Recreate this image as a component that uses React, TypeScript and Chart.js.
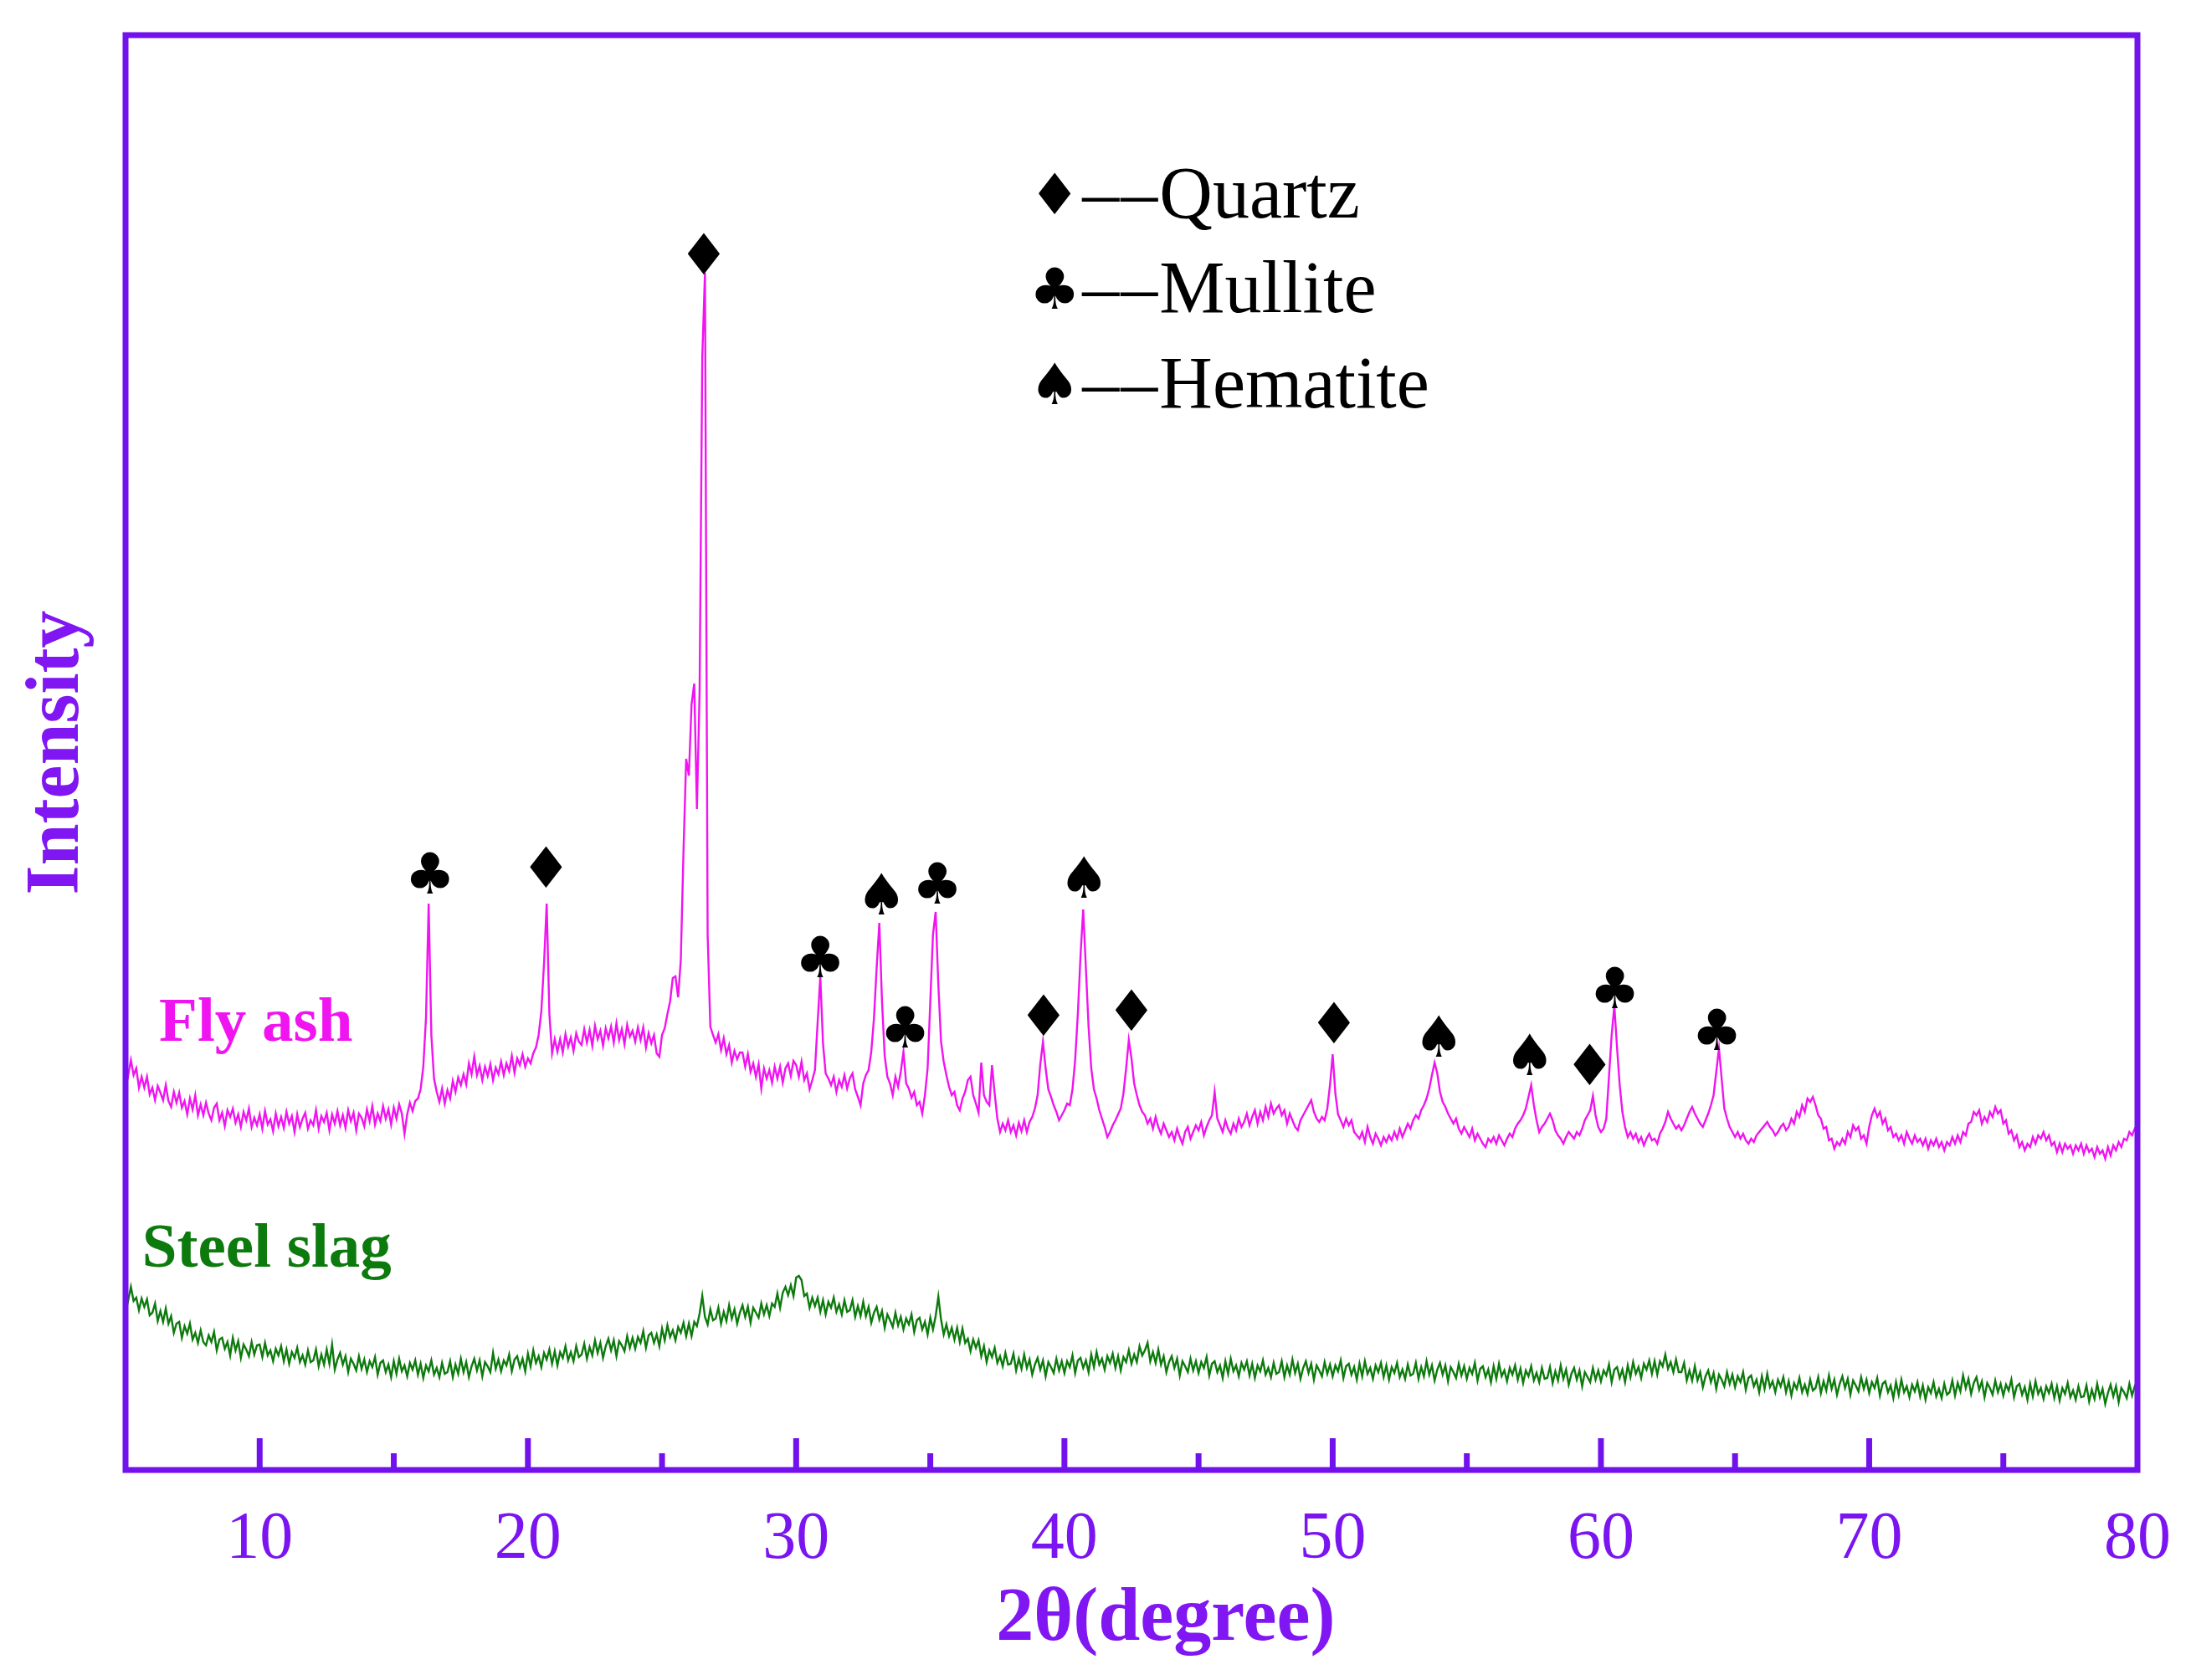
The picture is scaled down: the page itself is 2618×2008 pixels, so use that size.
import React, { useEffect, useRef } from "react";
import { Chart, registerables } from "chart.js";

Chart.register(...registerables);

// Both traces are read every 0.1° of 2θ, from 5° to 80°
const angleStart = 5;
const angleStep = 0.1;

// Fly ash intensity (arbitrary units), one row per degree
const flyAsh: number[] = [
  490, 472, 490, 472, 480, 457, 470, 457, 470, 449, // 5
  457, 442, 459, 451, 442, 460, 441, 434, 452, 439, // 6
  451, 433, 441, 425, 444, 431, 448, 424, 437, 424, // 7
  439, 426, 418, 433, 438, 418, 427, 411, 430, 422, // 8
  432, 415, 425, 410, 428, 418, 432, 410, 421, 412, // 9
  425, 408, 429, 413, 419, 405, 426, 411, 422, 409, // 10
  428, 414, 423, 404, 425, 410, 420, 427, 408, 418, // 11
  412, 430, 408, 423, 416, 427, 406, 425, 414, 429, // 12
  412, 424, 409, 430, 417, 427, 406, 426, 421, 411, // 13
  431, 417, 435, 413, 426, 417, 435, 420, 431, 413, // 14
  433, 420, 437, 426, 402, 425, 439, 429, 441, 444, // 15
  455, 482, 540, 677, 520, 468, 452, 440, 456, 438, // 16
  454, 444, 465, 452, 469, 460, 473, 461, 486, 473, // 17
  494, 472, 483, 466, 482, 471, 485, 466, 481, 473, // 18
  488, 472, 486, 477, 495, 475, 492, 484, 497, 482, // 19
  492, 486, 498, 505, 520, 548, 605, 677, 545, 498, // 20
  515, 500, 515, 499, 521, 506, 517, 501, 522, 512, // 21
  508, 527, 511, 526, 507, 531, 515, 525, 507, 528, // 22
  516, 530, 511, 534, 514, 527, 509, 532, 518, 525, // 23
  512, 529, 514, 529, 505, 522, 510, 520, 498, 494, // 24
  520, 528, 545, 560, 588, 590, 565, 610, 740, 850, // 25
  830, 915, 940, 790, 930, 1330, 1431, 640, 530, 520, // 26
  511, 521, 502, 516, 497, 508, 487, 501, 491, 499, // 27
  499, 482, 497, 476, 486, 470, 485, 456, 480, 468, // 28
  478, 463, 482, 468, 482, 463, 480, 486, 471, 489, // 29
  484, 470, 488, 466, 474, 455, 466, 478, 535, 590, // 30
  510, 474, 468, 460, 470, 452, 466, 458, 472, 456, // 31
  468, 474, 455, 446, 436, 462, 472, 478, 500, 540, // 32
  600, 654, 560, 495, 470, 462, 448, 470, 458, 476, // 33
  500, 462, 456, 445, 452, 436, 440, 426, 448, 480, // 34
  560, 640, 667, 580, 512, 488, 472, 458, 448, 452, // 35
  436, 430, 444, 452, 466, 470, 448, 438, 427, 487, // 36
  448, 440, 436, 484, 450, 420, 404, 414, 406, 418, // 37
  404, 412, 400, 415, 405, 418, 404, 416, 422, 432, // 38
  448, 485, 512, 480, 455, 446, 436, 428, 418, 424, // 39
  430, 438, 436, 455, 490, 545, 615, 670, 600, 530, // 40
  480, 455, 444, 430, 420, 410, 398, 404, 412, 418, // 41
  425, 432, 450, 480, 514, 492, 462, 448, 436, 428, // 42
  424, 414, 420, 408, 422, 410, 402, 414, 406, 398, // 43
  404, 394, 408, 398, 390, 404, 410, 396, 404, 412, // 44
  406, 416, 400, 410, 418, 424, 452, 420, 412, 404, // 45
  418, 408, 402, 414, 406, 420, 410, 416, 426, 412, // 46
  422, 430, 414, 428, 418, 434, 422, 438, 426, 432, // 47
  436, 424, 430, 414, 426, 418, 410, 406, 418, 424, // 48
  430, 436, 442, 428, 420, 416, 422, 418, 432, 460, // 49
  497, 450, 425, 418, 410, 420, 412, 418, 404, 400, // 50
  396, 404, 392, 410, 398, 390, 402, 396, 388, 398, // 51
  392, 400, 394, 404, 396, 408, 398, 406, 414, 408, // 52
  418, 424, 420, 430, 436, 444, 456, 472, 487, 474, // 53
  452, 440, 434, 426, 420, 414, 420, 408, 402, 410, // 54
  404, 398, 408, 394, 402, 396, 390, 386, 396, 392, // 55
  398, 390, 400, 394, 388, 396, 402, 398, 408, 414, // 56
  418, 424, 432, 446, 460, 436, 418, 404, 410, 414, // 57
  420, 426, 418, 406, 400, 396, 390, 398, 404, 400, // 58
  396, 404, 400, 408, 418, 424, 430, 447, 424, 410, // 59
  404, 408, 420, 470, 520, 555, 505, 460, 428, 410, // 60
  398, 404, 396, 402, 392, 398, 388, 396, 402, 394, // 61
  396, 390, 402, 408, 416, 428, 420, 414, 408, 412, // 62
  406, 412, 420, 428, 434, 426, 420, 414, 410, 418, // 63
  426, 436, 448, 476, 504, 468, 432, 420, 410, 404, // 64
  398, 404, 396, 402, 394, 390, 396, 392, 400, 404, // 65
  408, 412, 416, 410, 406, 400, 404, 410, 414, 406, // 66
  410, 420, 414, 428, 422, 436, 428, 444, 440, 446, // 67
  436, 424, 420, 408, 410, 394, 396, 384, 392, 388, // 68
  396, 390, 404, 398, 412, 406, 410, 396, 400, 390, // 69
  410, 424, 432, 422, 428, 414, 420, 406, 410, 398, // 70
  402, 394, 400, 390, 404, 396, 390, 400, 392, 396, // 71
  388, 396, 384, 394, 388, 396, 386, 392, 382, 392, // 72
  388, 398, 390, 400, 392, 404, 400, 414, 416, 428, // 73
  424, 430, 414, 422, 416, 428, 422, 434, 426, 430, // 74
  414, 418, 402, 406, 394, 400, 386, 392, 382, 390, // 75
  386, 398, 390, 400, 396, 404, 394, 400, 388, 392, // 76
  380, 390, 380, 390, 384, 388, 378, 388, 382, 390, // 77
  378, 388, 380, 384, 374, 386, 378, 382, 372, 386, // 78
  376, 388, 382, 392, 386, 396, 394, 404, 400, 408, // 79
  404, // 80
];

// Steel slag intensity (arbitrary units), one row per degree
const steelSlag: number[] = [
  220, 203, 219, 202, 206, 191, 205, 195, 204, 185, // 5
  188, 199, 178, 190, 177, 193, 175, 184, 164, 175, // 6
  177, 158, 172, 163, 175, 156, 164, 152, 167, 153, // 7
  149, 161, 153, 165, 143, 156, 158, 145, 153, 137, // 8
  158, 143, 154, 134, 150, 144, 136, 153, 138, 149, // 9
  150, 135, 152, 137, 143, 130, 145, 137, 148, 130, // 10
  144, 127, 141, 134, 146, 129, 137, 126, 143, 129, // 11
  131, 144, 124, 138, 126, 144, 127, 150, 120, 132, // 12
  140, 126, 136, 117, 133, 127, 119, 136, 121, 132, // 13
  117, 130, 123, 135, 114, 128, 131, 117, 126, 111, // 14
  130, 115, 133, 118, 125, 112, 128, 120, 131, 114, // 15
  127, 110, 125, 118, 131, 114, 122, 111, 128, 115, // 16
  117, 130, 111, 126, 115, 133, 117, 129, 111, 124, // 17
  133, 119, 131, 112, 129, 124, 117, 140, 121, 132, // 18
  118, 131, 125, 138, 118, 132, 136, 123, 133, 118, // 19
  139, 124, 143, 128, 136, 123, 140, 132, 144, 127, // 20
  142, 125, 141, 134, 148, 131, 141, 130, 148, 135, // 21
  138, 151, 133, 147, 137, 155, 140, 152, 134, 148, // 22
  157, 143, 155, 136, 154, 149, 142, 160, 146, 158, // 23
  145, 159, 152, 166, 146, 161, 164, 152, 162, 148, // 24
  169, 155, 173, 159, 167, 155, 171, 164, 176, 160, // 25
  175, 160, 177, 172, 187, 208, 183, 174, 192, 179, // 26
  181, 194, 175, 189, 178, 197, 181, 192, 175, 188, // 27
  197, 183, 195, 176, 194, 188, 182, 199, 186, 197, // 28
  184, 199, 195, 211, 194, 212, 219, 209, 221, 208, // 29
  230, 232, 227, 208, 211, 194, 206, 196, 206, 189, // 30
  203, 186, 201, 194, 206, 189, 198, 186, 203, 189, // 31
  191, 203, 183, 196, 184, 201, 184, 195, 176, 188, // 32
  195, 180, 190, 170, 186, 179, 171, 188, 173, 183, // 33
  168, 181, 174, 186, 165, 179, 182, 168, 177, 162, // 34
  182, 168, 184, 207, 180, 162, 174, 160, 170, 156, // 35
  170, 153, 169, 152, 157, 142, 156, 146, 155, 136, // 36
  148, 129, 143, 135, 146, 128, 136, 124, 140, 126, // 37
  127, 139, 119, 133, 121, 138, 122, 132, 114, 126, // 38
  134, 120, 131, 112, 129, 123, 116, 133, 119, 130, // 39
  116, 130, 123, 137, 116, 131, 134, 122, 131, 117, // 40
  138, 123, 141, 126, 133, 120, 136, 128, 139, 122, // 41
  136, 119, 135, 129, 143, 127, 138, 129, 148, 137, // 42
  143, 152, 130, 141, 128, 144, 126, 136, 117, 129, // 43
  136, 122, 133, 113, 130, 124, 117, 133, 119, 130, // 44
  116, 129, 122, 135, 113, 127, 130, 117, 125, 110, // 45
  130, 115, 133, 118, 125, 112, 128, 120, 130, 113, // 46
  127, 110, 125, 118, 131, 114, 122, 111, 128, 115, // 47
  117, 130, 111, 125, 114, 132, 116, 127, 109, 122, // 48
  130, 116, 127, 108, 125, 119, 112, 129, 115, 126, // 49
  112, 125, 118, 131, 110, 124, 127, 114, 123, 108, // 50
  127, 112, 130, 115, 122, 109, 125, 117, 128, 111, // 51
  125, 108, 123, 116, 128, 111, 120, 109, 126, 113, // 52
  115, 128, 109, 123, 112, 130, 114, 125, 107, 120, // 53
  128, 114, 125, 106, 123, 117, 110, 127, 113, 124, // 54
  109, 122, 115, 128, 107, 121, 124, 111, 120, 105, // 55
  124, 109, 127, 112, 119, 106, 122, 114, 125, 108, // 56
  121, 104, 119, 112, 124, 107, 116, 105, 122, 109, // 57
  110, 123, 104, 118, 107, 125, 109, 120, 102, 115, // 58
  122, 108, 119, 100, 117, 111, 105, 122, 108, 119, // 59
  106, 119, 113, 126, 105, 120, 123, 110, 120, 105, // 60
  125, 111, 129, 115, 123, 110, 127, 120, 131, 115, // 61
  130, 114, 130, 124, 138, 121, 129, 117, 132, 117, // 62
  117, 128, 107, 119, 107, 124, 107, 117, 99, 112, // 63
  119, 105, 116, 97, 114, 108, 100, 117, 103, 114, // 64
  99, 112, 105, 117, 96, 110, 113, 100, 108, 93, // 65
  112, 97, 115, 99, 106, 93, 108, 100, 111, 93, // 66
  106, 89, 104, 97, 110, 93, 102, 91, 108, 95, // 67
  98, 111, 92, 106, 95, 113, 97, 108, 90, 103, // 68
  112, 98, 109, 90, 107, 101, 94, 111, 97, 108, // 69
  92, 105, 98, 110, 89, 103, 106, 93, 101, 86, // 70
  105, 90, 108, 93, 100, 87, 102, 94, 105, 88, // 71
  101, 84, 99, 92, 105, 88, 97, 86, 103, 90, // 72
  93, 107, 89, 104, 94, 113, 98, 109, 91, 104, // 73
  111, 96, 106, 87, 104, 98, 90, 107, 93, 103, // 74
  89, 102, 95, 108, 87, 100, 103, 90, 99, 84, // 75
  103, 88, 106, 91, 98, 85, 100, 92, 103, 86, // 76
  100, 83, 98, 91, 104, 87, 95, 84, 100, 87, // 77
  88, 101, 82, 96, 85, 103, 87, 97, 79, 92, // 78
  102, 88, 100, 81, 98, 93, 86, 103, 89, 100, // 79
  95, // 80
];

// Indexed peaks: phase, 2θ position and the height where the symbol sits
const peakPhase = [
  "Mullite", "Quartz", "Quartz", "Mullite", "Hematite", "Mullite", "Mullite", "Quartz",
  "Hematite", "Quartz", "Quartz", "Hematite", "Hematite", "Quartz", "Mullite", "Mullite",
];
const peakAngle = [16.35, 20.68, 26.56, 30.89, 33.18, 34.06, 35.26, 39.22, 40.73, 42.5, 50.05, 53.96, 57.34, 59.58, 60.52, 64.32];
const peakLevel = [713, 720, 1453, 613, 688, 529, 701, 543, 708, 549, 534, 518, 496, 484, 576, 526];

const legendPhases = ["Quartz", "Mullite", "Hematite"];
const phaseSymbol: Record<string, string> = { Quartz: "\u2666", Mullite: "\u2663", Hematite: "\u2660" };

const FRAME = "#7111EC";
const TICK_TEXT = "#7A14F0";
const TITLE = "#8016F2";
const FLY = "#F014F0";
const SLAG = "#0C7A0C";
const SERIF = '"Liberation Serif", "Times New Roman", serif';
const SYMBOL_FONT = '68px "DejaVu Sans"';

const decorPlugin = {
  id: "decor",
  afterDatasetsDraw(chart: any) {
    const { ctx, chartArea: a } = chart;
    const x = chart.scales.x;
    const y = chart.scales.y;
    ctx.save();

    // box frame
    ctx.strokeStyle = FRAME;
    ctx.lineWidth = 7;
    ctx.strokeRect(a.left, a.top, a.right - a.left, a.bottom - a.top);

    // inward tick marks on the bottom axis
    x.ticks.forEach((t: any) => {
      if (t.value <= x.min || t.value >= x.max) return;
      const px = x.getPixelForValue(t.value);
      const len = t.value % 10 === 0 ? 38 : 20;
      ctx.beginPath();
      ctx.moveTo(px, a.bottom);
      ctx.lineTo(px, a.bottom - len);
      ctx.stroke();
    });

    // x axis title, set a little right of centre as in the source figure
    ctx.fillStyle = TITLE;
    ctx.font = `bold 90px ${SERIF}`;
    ctx.textAlign = "center";
    ctx.textBaseline = "middle";
    ctx.fillText("2θ(degree)", a.left + (a.right - a.left) * 0.517, a.bottom + 180);

    // phase symbols above peaks
    ctx.fillStyle = "#000";
    ctx.font = SYMBOL_FONT;
    peakAngle.forEach((ang, i) => {
      ctx.fillText(phaseSymbol[peakPhase[i]], x.getPixelForValue(ang), y.getPixelForValue(peakLevel[i]) + 6);
    });

    // phase key
    const keyLevels = [1524, 1411, 1297];
    legendPhases.forEach((name, i) => {
      const cy = y.getPixelForValue(keyLevels[i]);
      ctx.font = SYMBOL_FONT;
      ctx.textAlign = "center";
      ctx.textBaseline = "middle";
      ctx.fillText(phaseSymbol[name], x.getPixelForValue(39.64), cy + 5);
      ctx.font = `88px ${SERIF}`;
      ctx.textAlign = "left";
      ctx.textBaseline = "alphabetic";
      const dx = x.getPixelForValue(40.67);
      ctx.fillText("\u2013", dx, cy + 27);
      ctx.fillText("\u2013", dx + 46, cy + 27);
      ctx.fillText(name, dx + 92, cy + 27);
    });

    // sample names
    ctx.font = `bold 75px ${SERIF}`;
    ctx.textAlign = "left";
    ctx.textBaseline = "alphabetic";
    ctx.fillStyle = FLY;
    ctx.fillText("Fly ash", x.getPixelForValue(6.25), y.getPixelForValue(513));
    ctx.fillStyle = SLAG;
    ctx.fillText("Steel slag", x.getPixelForValue(5.62), y.getPixelForValue(243));

    ctx.restore();
  },
};

const toPoints = (values: number[]) => values.map((v, i) => ({ x: angleStart + i * angleStep, y: v }));

export default function App() {
  const canvasRef = useRef<HTMLCanvasElement | null>(null);

  useEffect(() => {
    if (!canvasRef.current) return;

    const chart = new Chart(canvasRef.current, {
      type: "scatter",
      data: {
        datasets: [
          {
            label: "Fly ash",
            data: toPoints(flyAsh),
            showLine: true,
            borderColor: FLY,
            borderWidth: 2.4,
            pointRadius: 0,
            tension: 0,
          },
          {
            label: "Steel slag",
            data: toPoints(steelSlag),
            showLine: true,
            borderColor: SLAG,
            borderWidth: 2.4,
            pointRadius: 0,
            tension: 0,
          },
        ],
      },
      options: {
        animation: false,
        responsive: true,
        maintainAspectRatio: false,
        devicePixelRatio: 1,
        layout: { padding: { top: 42, right: 64, bottom: 0, left: 0 } },
        plugins: {
          legend: { display: false },
          tooltip: { enabled: false },
        },
        scales: {
          x: {
            type: "linear",
            min: 5,
            max: 80,
            afterFit: (s: any) => {
              s.height = 251;
            },
            // tick marks are drawn by the plugin; tickLength only spaces the labels
            grid: { display: false, drawTicks: true, tickLength: 36 },
            border: { display: false },
            ticks: {
              stepSize: 5,
              autoSkip: false,
              maxRotation: 0,
              padding: 0,
              color: TICK_TEXT,
              font: { family: SERIF, size: 80 },
              callback: (v: any) => (Number(v) % 10 === 0 ? String(v) : ""),
            },
          },
          y: {
            min: 0,
            max: 1715,
            afterFit: (s: any) => {
              s.width = 150;
            },
            grid: { display: false, drawTicks: false },
            border: { display: false },
            ticks: { display: false },
            title: {
              display: true,
              text: "Intensity",
              color: TITLE,
              font: { family: SERIF, size: 90, weight: "bold" },
              padding: { top: 16, bottom: 0 },
            },
          },
        },
      },
      plugins: [decorPlugin],
    });

    return () => chart.destroy();
  }, []);

  return (
    <div style={{ position: "fixed", left: 0, top: 0, width: 2618, height: 2008, background: "#fff" }}>
      <canvas ref={canvasRef} />
    </div>
  );
}
